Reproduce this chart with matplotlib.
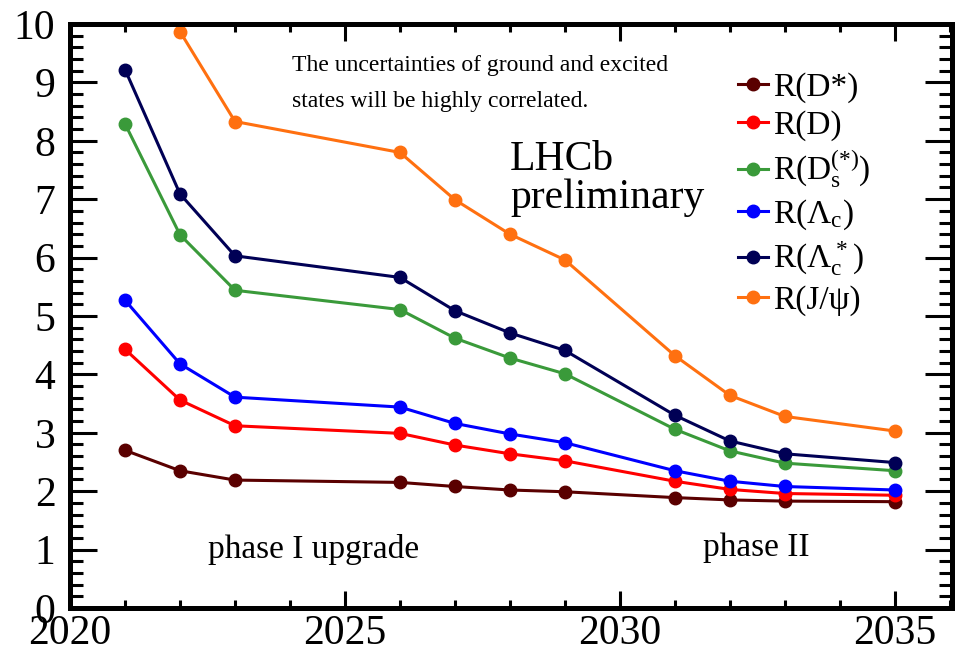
import matplotlib
matplotlib.use("Agg")
import matplotlib.pyplot as plt
from matplotlib.ticker import MultipleLocator

plt.rcParams['font.family'] = ['Liberation Serif', 'DejaVu Serif']
plt.rcParams['mathtext.default'] = 'regular'

# values
years = [2021, 2022, 2023, 2026, 2027, 2028, 2029, 2031, 2032, 2033, 2035]
r_dstar = [2.70, 2.35, 2.19, 2.15, 2.08, 2.02, 1.99, 1.89, 1.85, 1.83, 1.82]
r_d = [4.43, 3.56, 3.12, 2.99, 2.79, 2.64, 2.52, 2.17, 2.03, 1.96, 1.93]
r_ds = [8.29, 6.39, 5.44, 5.11, 4.62, 4.28, 4.01, 3.06, 2.69, 2.48, 2.35]
r_lc = [5.27, 4.18, 3.61, 3.44, 3.16, 2.98, 2.83, 2.35, 2.17, 2.08, 2.02]
r_lcstar = [9.22, 7.09, 6.03, 5.66, 5.09, 4.71, 4.41, 3.30, 2.86, 2.64, 2.49]
jpsi_years = [2022, 2023, 2026, 2027, 2028, 2029, 2031, 2032, 2033, 2035]
r_jpsi = [9.87, 8.33, 7.80, 6.99, 6.40, 5.96, 4.32, 3.64, 3.28, 3.03]

series = [
    (years, r_dstar, 'R(D*)', '#5a0000'),
    (years, r_d, 'R(D)', '#ff0000'),
    (years, r_ds, r'R(D$_s^{(*)}$)', '#3a9a3a'),
    (years, r_lc, r'R(Λ$_c$)', '#0000ff'),
    (years, r_lcstar, r'R(Λ$^*_c$)', '#000055'),
    (jpsi_years, r_jpsi, 'R(J/ψ)', '#ff7010'),
]

fig = plt.figure(figsize=(9.62, 6.55), dpi=100)
ax = fig.add_axes([0.0728, 0.0718, 0.9168, 0.8916])

for xs, ys, lab, col in series:
    ax.plot(xs, ys, '-o', color=col, lw=2.2, ms=9, label=lab, clip_on=False)

ax.set_xlim(2020, 2036.04)
ax.set_ylim(0, 10)

# ticks: inward on all four sides, long on y
ax.xaxis.set_major_locator(MultipleLocator(5))
ax.xaxis.set_minor_locator(MultipleLocator(1))
ax.yaxis.set_major_locator(MultipleLocator(1))
ax.yaxis.set_minor_locator(MultipleLocator(0.2))
ax.tick_params(axis='both', which='both', direction='in', top=True, right=True,
               width=2.2, labelsize=30)
ax.tick_params(axis='x', which='major', length=12, pad=5)
ax.tick_params(axis='x', which='minor', length=6)
ax.tick_params(axis='y', which='major', length=19.5, pad=10.5)
ax.tick_params(axis='y', which='minor', length=9.5)
for sp in ax.spines.values():
    sp.set_linewidth(3.6)

# annotations
ax.text(2024.04, 9.195, 'The uncertainties of ground and excited', fontsize=17, va='baseline')
ax.text(2024.04, 8.58, 'states will be highly correlated.', fontsize=17, va='baseline')
ax.text(2028.0, 7.50, 'LHCb', fontsize=30, va='baseline')
ax.text(2028.0, 6.85, 'preliminary', fontsize=30, va='baseline')
ax.text(2022.51, 0.86, 'phase I upgrade', fontsize=24, va='baseline')
ax.text(2031.51, 0.89, 'phase II', fontsize=24, va='baseline')

ax.legend(loc='upper left', bbox_to_anchor=(0.757, 0.917), frameon=False, fontsize=24,
          handlelength=0.9, handletextpad=0.15, labelspacing=0.22,
          borderpad=0, borderaxespad=0)

fig.savefig('out.png', dpi=100)
